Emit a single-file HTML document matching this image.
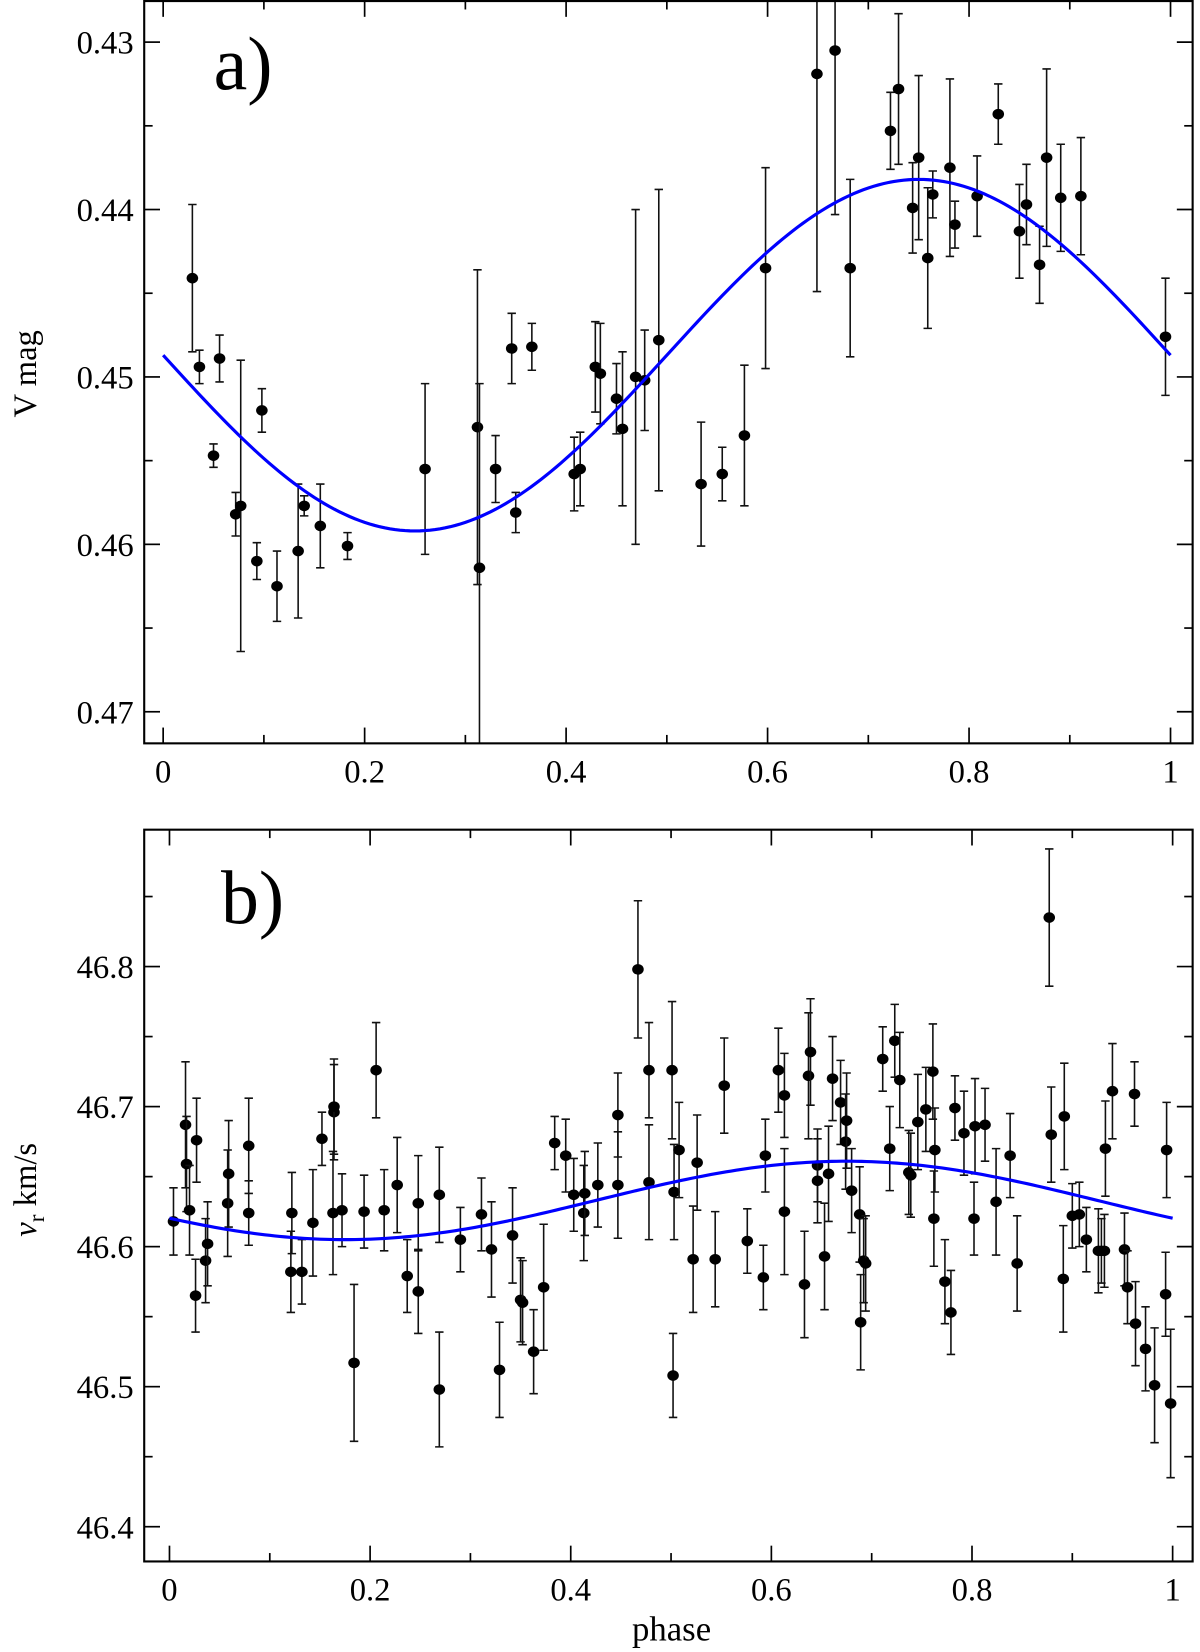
<!DOCTYPE html>
<html><head><meta charset="utf-8"><style>
html,body{margin:0;padding:0;background:#fff}
svg{display:block}
text{font-family:"Liberation Serif",serif;fill:#000}
</style></head><body>
<svg id="fig" width="1200" height="1652" viewBox="0 0 1140 1569" preserveAspectRatio="none" xmlns="http://www.w3.org/2000/svg">
<defs>
<clipPath id="clipA"><rect x="137" y="0" width="996" height="706"/></clipPath>
<clipPath id="clipB"><rect x="137" y="788" width="996" height="695"/></clipPath>
</defs>
<g id="panelA"></g>
<g id="panelB"></g>
</svg>
<script>
// ---- Panel a data ----
const aPhase = [0.029,0.036,0.056,0.050,0.072,0.077,0.098,0.093,0.113,0.134,0.140,0.156,0.183,0.260,0.312,0.314,0.330,0.346,0.350,0.366,0.408,0.414,0.429,0.434,0.450,0.456,0.469,0.478,0.492,0.534,0.555,0.577,0.598,0.649,0.667,0.682,0.722,0.730,0.744,0.750,0.759,0.764,0.781,0.786,0.808,0.829,0.850,0.857,0.870,0.877,0.891,0.911,0.995];
const aMag = [0.4441,0.4494,0.4489,0.4547,0.4582,0.4577,0.4520,0.4610,0.4625,0.4604,0.4577,0.4589,0.4601,0.4555,0.4530,0.4614,0.4555,0.4483,0.4581,0.4482,0.4558,0.4555,0.4494,0.4498,0.4513,0.4531,0.4500,0.4502,0.4478,0.4564,0.4558,0.4535,0.4435,0.4319,0.4305,0.4435,0.4353,0.4328,0.4399,0.4369,0.4429,0.4391,0.4375,0.4409,0.4392,0.4343,0.4413,0.4397,0.4433,0.4369,0.4393,0.4392,0.4476];
const aErr = [0.0044,0.0010,0.0014,0.0007,0.0013,0.0087,0.0013,0.0011,0.0021,0.0040,0.0006,0.0025,0.0008,0.0051,0.0094,0.0110,0.0020,0.0021,0.0012,0.0014,0.0022,0.0022,0.0027,0.0030,0.0021,0.0046,0.0100,0.0030,0.0090,0.0037,0.0016,0.0042,0.0060,0.0130,0.0098,0.0053,0.0023,0.0045,0.0027,0.0049,0.0042,0.0014,0.0053,0.0014,0.0024,0.0018,0.0028,0.0024,0.0023,0.0053,0.0032,0.0035,0.0035];
const aFit = [0.4487, 0.0105, 0.25]; // mean, amplitude, phase of maximum magnitude
const aXTicks = [0,0.2,0.4,0.6,0.8,1];
const aXLabels = ["0","0.2","0.4","0.6","0.8","1"];
const aYTicks = [0.43,0.44,0.45,0.46,0.47];
const aYLabels = ["0.43","0.44","0.45","0.46","0.47"];

// ---- Panel b data ----
const bPhase = [0.004,0.016,0.017,0.020,0.026,0.027,0.036,0.038,0.058,0.059,0.079,0.079,0.121,0.122,0.132,0.143,0.152,0.163,0.164,0.164,0.172,0.184,0.194,0.206,0.214,0.227,0.237,0.248,0.248,0.269,0.269,0.290,0.311,0.321,0.329,0.342,0.350,0.352,0.363,0.373,0.384,0.395,0.403,0.413,0.414,0.427,0.447,0.447,0.467,0.478,0.478,0.501,0.502,0.503,0.508,0.522,0.526,0.544,0.553,0.576,0.592,0.594,0.607,0.613,0.613,0.633,0.637,0.639,0.646,0.646,0.653,0.657,0.661,0.669,0.674,0.675,0.680,0.688,0.689,0.692,0.694,0.711,0.718,0.723,0.728,0.737,0.739,0.746,0.754,0.761,0.762,0.763,0.773,0.779,0.783,0.792,0.802,0.803,0.813,0.824,0.838,0.845,0.877,0.879,0.891,0.892,0.900,0.907,0.914,0.933,0.940,0.952,0.955,0.963,0.973,0.982,0.993,0.994,0.998,0.929,0.926,0.932,0.962];
const bVel = [46.618,46.687,46.659,46.626,46.565,46.676,46.590,46.602,46.631,46.652,46.624,46.672,46.582,46.624,46.582,46.617,46.677,46.624,46.696,46.700,46.626,46.517,46.625,46.726,46.626,46.644,46.579,46.631,46.568,46.637,46.498,46.605,46.623,46.598,46.512,46.608,46.562,46.560,46.525,46.571,46.674,46.665,46.637,46.624,46.638,46.644,46.694,46.644,46.798,46.726,46.646,46.726,46.508,46.639,46.669,46.591,46.660,46.591,46.715,46.604,46.578,46.665,46.726,46.625,46.708,46.573,46.722,46.739,46.658,46.647,46.593,46.652,46.720,46.703,46.675,46.690,46.640,46.623,46.546,46.590,46.588,46.734,46.670,46.747,46.719,46.653,46.651,46.689,46.698,46.725,46.620,46.669,46.575,46.553,46.699,46.681,46.620,46.686,46.687,46.632,46.665,46.588,46.835,46.680,46.577,46.693,46.622,46.623,46.605,46.670,46.711,46.598,46.571,46.545,46.527,46.501,46.566,46.669,46.488,46.597,46.597,46.597,46.709];
const bErr = [0.024,0.045,0.034,0.032,0.026,0.030,0.030,0.030,0.038,0.038,0.023,0.034,0.029,0.029,0.023,0.038,0.019,0.044,0.034,0.034,0.026,0.056,0.026,0.034,0.029,0.034,0.026,0.034,0.030,0.034,0.041,0.023,0.026,0.034,0.034,0.034,0.030,0.030,0.030,0.045,0.019,0.026,0.026,0.034,0.030,0.030,0.030,0.038,0.049,0.034,0.041,0.049,0.030,0.034,0.034,0.038,0.034,0.034,0.034,0.023,0.023,0.026,0.030,0.045,0.030,0.038,0.045,0.038,0.026,0.030,0.038,0.034,0.030,0.030,0.034,0.034,0.030,0.034,0.034,0.030,0.034,0.023,0.030,0.026,0.034,0.030,0.030,0.034,0.030,0.034,0.034,0.030,0.030,0.030,0.023,0.030,0.026,0.034,0.026,0.038,0.030,0.034,0.049,0.034,0.038,0.038,0.023,0.023,0.023,0.034,0.034,0.026,0.026,0.030,0.030,0.041,0.030,0.034,0.053,0.023,0.030,0.026,0.023];
const bFit = [46.633, 0.028, 0.675]; // mean, amplitude, phase of maximum
const bXTicks = [0,0.2,0.4,0.6,0.8,1];
const bXLabels = ["0","0.2","0.4","0.6","0.8","1"];
const bYTicks = [46.4,46.5,46.6,46.7,46.8];
const bYLabels = ["46.4","46.5","46.6","46.7","46.8"];

const NS = "http://www.w3.org/2000/svg";
function mk(tag, attrs, parent){
  const e = document.createElementNS(NS, tag);
  for (const k in attrs) e.setAttribute(k, attrs[k]);
  parent.appendChild(e);
  return e;
}

function drawPanel(g, box, xs, ys, xTicks, xLabels, xMinor, yTicks, yLabels, yMinor, phase, val, err, fitFn, clipId){
  const X = v => xs.p0 + (v - xs.v0) * (xs.p1 - xs.p0) / (xs.v1 - xs.v0);
  const Y = v => ys.p0 + (v - ys.v0) * (ys.p1 - ys.p0) / (ys.v1 - ys.v0);
  const tg = mk('g', {stroke:'#000','stroke-width':1.6}, g);
  
  
  xMinor.forEach(v => {
    const major = xTicks.some(t => Math.abs(t - v) < 1e-9);
    const L = major ? 15 : 8, x = X(v);
    if (x < box.l || x > box.r) return;
    mk('line', {x1:x, y1:box.b, x2:x, y2:box.b - L}, tg);
    mk('line', {x1:x, y1:box.t, x2:x, y2:box.t + L}, tg);
  });
  yMinor.forEach(v => {
    const major = yTicks.some(t => Math.abs(t - v) < 1e-9);
    const L = major ? 15 : 8, y = Y(v);
    if (y < box.t || y > box.b) return;
    mk('line', {x1:box.l, y1:y, x2:box.l + L, y2:y}, tg);
    mk('line', {x1:box.r, y1:y, x2:box.r - L, y2:y}, tg);
  });
  xTicks.forEach((v, i) => {
    const t = mk('text', {x:X(v), y:box.b + 37, 'text-anchor':'middle', 'font-size':31}, g);
    t.textContent = xLabels[i];
    
    
  });
  yTicks.forEach((v, i) => {
    const t = mk('text', {x:box.l - 10, y:Y(v) + 11, 'text-anchor':'end', 'font-size':31}, g);
    t.textContent = yLabels[i];
    
    
  });
  const dg = mk('g', {'clip-path':'url(#' + clipId + ')'}, g);
  
  
  phase.forEach((p, i) => {
    const x = X(p), y = Y(val[i]), y1 = Y(val[i] - err[i]), y2 = Y(val[i] + err[i]);
    const eb = mk('path', {d:`M${x},${y1}V${y2}M${x-4},${y1}H${x+4}M${x-4},${y2}H${x+4}`, stroke:'#111', 'stroke-width':1.5, fill:'none'}, dg);
    
    
    const c = mk('ellipse', {cx:x, cy:y, rx:5.5, ry:5, fill:'#000'}, dg);
    
    
  });
  let d = '';
  for (let k = 0; k <= 200; k++) {
    const p = k / 200;
    d += (k ? 'L' : 'M') + X(p).toFixed(2) + ',' + Y(fitFn(p)).toFixed(2);
  }
  const fl = mk('path', {d:d, stroke:'#0000ff', 'stroke-width':3, fill:'none'}, g);
  
  
  const fr = mk('rect', {x:box.l, y:box.t, width:box.r - box.l, height:box.b - box.t, fill:'none', stroke:'#000', 'stroke-width':2}, g);
  
  
}

const range = (a, b, s) => { const r = []; for (let v = a; v <= b + 1e-9; v += s) r.push(Math.round(v * 10000) / 10000); return r; };

const gA = document.getElementById('panelA');
drawPanel(gA, {l:137, r:1133, t:1, b:706},
  {v0:0, v1:1, p0:155, p1:1112}, {v0:0.43, v1:0.47, p0:40, p1:676},
  aXTicks, aXLabels, range(0, 1, 0.1), aYTicks, aYLabels, range(0.43, 0.47, 0.005),
  aPhase, aMag, aErr, p => aFit[0] + aFit[1] * Math.sin(2 * Math.PI * (p - aFit[2] + 0.25)), 'clipA');

const gB = document.getElementById('panelB');
drawPanel(gB, {l:137, r:1133, t:788, b:1483},
  {v0:0, v1:1, p0:161, p1:1114}, {v0:46.4, v1:46.8, p0:1450, p1:918},
  bXTicks, bXLabels, range(0, 1, 0.1), bYTicks, bYLabels, range(46.4, 46.85, 0.05),
  bPhase, bVel, bErr, p => bFit[0] + bFit[1] * Math.cos(2 * Math.PI * (p - bFit[2])), 'clipB');
</script>
<svg style="position:absolute;left:0;top:0" width="1200" height="1652" viewBox="0 0 1140 1569" preserveAspectRatio="none" xmlns="http://www.w3.org/2000/svg">
<text x="203" y="85" font-size="72" style="font-family:'Liberation Serif',serif">a)</text>
<text x="210" y="877" font-size="72" style="font-family:'Liberation Serif',serif">b)</text>
<text transform="translate(34,355) rotate(-90)" text-anchor="middle" font-size="31" style="font-family:'Liberation Serif',serif">V mag</text>
<text transform="translate(34,1130) rotate(-90)" text-anchor="middle" font-size="31" style="font-family:'Liberation Serif',serif"><tspan font-style="italic">v</tspan><tspan font-size="22" dy="8">r</tspan><tspan dy="-8">  km/s</tspan></text>
<text x="638" y="1558" text-anchor="middle" font-size="33" style="font-family:'Liberation Serif',serif">phase</text>
</svg>
</body></html>
